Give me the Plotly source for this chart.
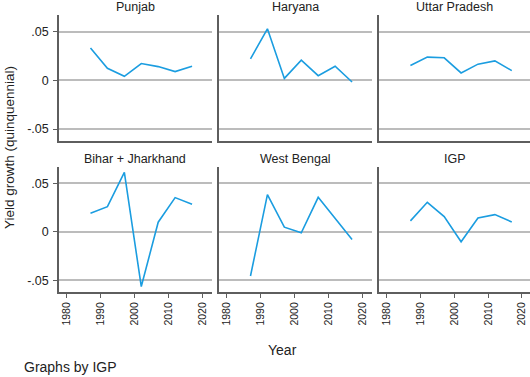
import plotly.graph_objects as go

years = [1987, 1992, 1997, 2002, 2007, 2012, 2017]
panels = ["Punjab", "Haryana", "Uttar Pradesh", "Bihar + Jharkhand", "West Bengal", "IGP"]
punjab = [0.0331, 0.0124, 0.0041, 0.0172, 0.0141, 0.0090, 0.0145]
haryana = [0.0221, 0.0528, 0.0020, 0.0207, 0.0048, 0.0145, -0.0017]
uttar_pradesh = [0.0152, 0.0238, 0.0231, 0.0076, 0.0166, 0.0200, 0.0100]
bihar_jharkhand = [0.0191, 0.0259, 0.0611, -0.0563, 0.0099, 0.0352, 0.0283]
west_bengal = [-0.0454, 0.0382, 0.0048, -0.0010, 0.0355, 0.0143, -0.0078]
igp = [0.0113, 0.0304, 0.0157, -0.0102, 0.0143, 0.0177, 0.0102]
series = [punjab, haryana, uttar_pradesh, bihar_jharkhand, west_bengal, igp]

x_ticks = [1980, 1990, 2000, 2010, 2020]
y_ticks = [-0.05, 0, 0.05]
y_ticktext = ["-.05", "0", ".05"]

W, H = 530, 377
FONT = "Liberation Sans, Arial, sans-serif"
LINE = "#1b9de0"
AXIS = "#5e5e5e"
GRID = "#bcbcbc"

col_px = [(59, 211.7), (219, 371.7), (379, 530)]
col_range = [[1977.7, 2022.8], [1977.7, 2022.8], [1977.7, 2022.4]]
row_px = [(15, 141), (166.7, 292.3)]
y_range = [-0.0622, 0.0670]

fig = go.Figure()
annotations = []
for i, (name, vals) in enumerate(zip(panels, series)):
    r, c = divmod(i, 3)
    n = i + 1
    xa = "x" if n == 1 else f"x{n}"
    ya = "y" if n == 1 else f"y{n}"
    fig.add_trace(go.Scatter(x=years, y=vals, mode="lines",
                             line=dict(color=LINE, width=1.6),
                             xaxis=xa, yaxis=ya, showlegend=False,
                             hoverinfo="skip"))
    x0, x1 = col_px[c]
    y0, y1 = row_px[r]
    xdom = [x0 / W, min(1.0, x1 / W)]
    ydom = [1 - y1 / H, 1 - y0 / H]
    bottom = r == 1
    fig.layout[f"xaxis{'' if n == 1 else n}"] = dict(
        domain=xdom, range=col_range[c], anchor=ya,
        showline=True, linecolor=AXIS, linewidth=1.5,
        showgrid=False, zeroline=False,
        tickvals=x_ticks, ticktext=[str(v) for v in x_ticks],
        ticks="outside" if bottom else "", ticklen=4, tickwidth=1, tickcolor=AXIS,
        showticklabels=bottom, tickangle=-90,
        tickfont=dict(family=FONT, size=10.5, color="#222"),
    )
    first = c == 0
    fig.layout[f"yaxis{'' if n == 1 else n}"] = dict(
        domain=ydom, range=y_range, anchor=xa,
        showline=True, linecolor=AXIS, linewidth=1.5,
        showgrid=True, gridcolor=GRID, gridwidth=1.6,
        zeroline=False,
        tickvals=y_ticks, ticktext=y_ticktext,
        ticks="outside" if first else "", ticklen=4, tickwidth=1, tickcolor=AXIS,
        showticklabels=first, ticklabelstandoff=2,
        tickfont=dict(family=FONT, size=12.5, color="#222"),
    )
    annotations.append(dict(
        text=name, x=((x0 + x1) / 2) / W, y=1 - (y0 - 7.5) / H,
        xref="paper", yref="paper", xanchor="center", yanchor="middle",
        showarrow=False, font=dict(family=FONT, size=12.5, color="#222")))

annotations.append(dict(text="Year", x=282 / W, y=1 - 350 / H, xref="paper", yref="paper",
                        xanchor="center", yanchor="middle", showarrow=False,
                        font=dict(family=FONT, size=14, color="#222")))
annotations.append(dict(text="Graphs by IGP", x=22 / W, y=1 - 367 / H, xref="paper", yref="paper",
                        xanchor="left", yanchor="middle", showarrow=False,
                        font=dict(family=FONT, size=14, color="#222")))
annotations.append(dict(text="Yield growth (quinquennial)", x=9 / W, y=1 - 148 / H,
                        xref="paper", yref="paper", xanchor="center", yanchor="middle",
                        textangle=-90, showarrow=False,
                        font=dict(family=FONT, size=13.5, color="#222")))

fig.update_layout(width=W, height=H, margin=dict(l=0, r=0, t=0, b=0),
                  paper_bgcolor="white", plot_bgcolor="white",
                  annotations=annotations)
fig.write_html("out.html", config={"displayModeBar": False},
               post_script="document.body.style.margin='0px';document.body.style.overflow='hidden';")
